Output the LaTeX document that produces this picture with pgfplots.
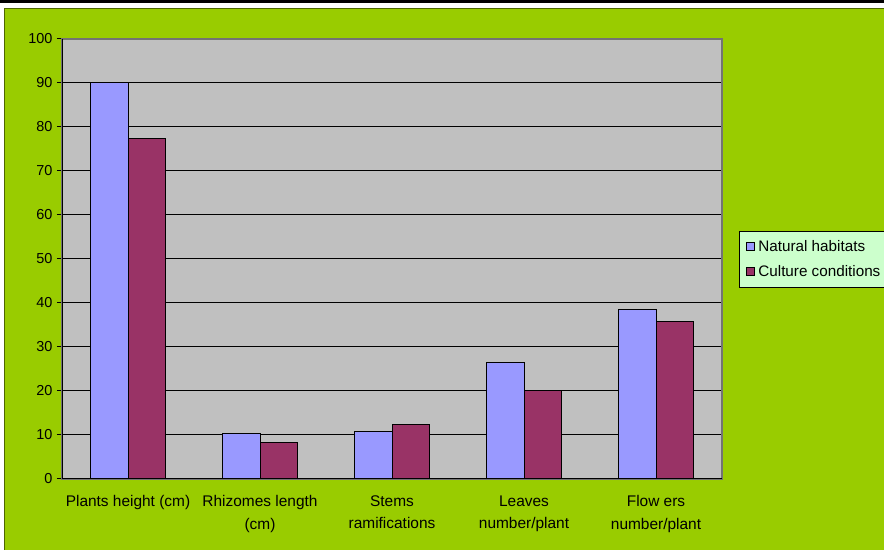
\documentclass[border=0pt]{standalone}
\usepackage{pgfplots}
\pgfplotsset{compat=1.18}
\usepackage{fontspec}
\setmainfont{Liberation Sans}
\definecolor{bgreen}{HTML}{99CC00}
\definecolor{dgreen}{HTML}{4D6600}
\definecolor{plotgrey}{HTML}{C0C0C0}
\definecolor{natblue}{HTML}{9999FF}
\definecolor{culmaroon}{HTML}{993366}
\definecolor{legbg}{HTML}{CCFFCC}
\begin{document}
\begin{tikzpicture}
\useasboundingbox (0bp,0bp) rectangle (884bp,550bp);
\fill[white] (0bp,0bp) rectangle (884bp,550bp);
\fill[black] (0bp,546.5bp) rectangle (884bp,550bp);
\fill[bgreen] (4bp,0bp) rectangle (890bp,542bp);
\draw[dgreen,line width=1bp] (4.5bp,0bp) -- (4.5bp,541.5bp) -- (890bp,541.5bp);
\begin{axis}[
  at={(62bp,71bp)}, anchor=south west,
  width=660bp, height=440bp, scale only axis,
  ybar=0pt, bar width=37.5bp,
  xmin=-0.5, xmax=4.5, ymin=0, ymax=100,
  ytick={0,10,...,100},
  xtick={0,1,2,3,4},
  xticklabels={Plants height (cm),Rhizomes length\\(cm),Stems\\ramifications,Leaves\\number/plant,Flow ers\\number/plant},
  x tick label style={font=\fontsize{15.5}{22.5}\selectfont, align=center, anchor=north, yshift=-8bp},
  y tick label style={font=\fontsize{14.5}{16}\selectfont, xshift=-1bp},
  /pgf/number format/assume math mode=true,
  major x tick style={draw=none},
  extra x ticks={-0.5,0.5,1.5,2.5,3.5,4.5},
  extra x tick labels={},
  extra x tick style={major tick length=5bp, tick style={black, line width=1bp}, grid=none},
  tick align=outside, xtick pos=bottom, ytick pos=left,
  major tick length=5bp,
  y tick style={black, line width=1bp},
  ymajorgrids, grid style={black, line width=1bp},
  axis background/.style={fill=plotgrey},
  axis line style={draw=gray!90!black, line width=1.6bp},
  legend style={at={(1,0.5)}, anchor=west, xshift=17bp, fill=legbg, draw=black, line width=0.8bp,
    font=\fontsize{15.3}{17}\selectfont, row sep=9bp, inner xsep=3bp, inner ysep=7bp},
  legend cell align=left,
  legend image code/.code={\path[draw=none,fill=none] (0bp,0bp) -- (14bp,0bp); \draw[#1, line width=0.8bp] (4bp,-4bp) rectangle (12bp,4bp);},
]
\addplot[fill=natblue, draw=black, line width=1bp] coordinates {(0,90) (1,10.4) (2,10.7) (3,26.4) (4,38.6)};
\addplot[fill=culmaroon, draw=black, line width=1bp] coordinates {(0,77.4) (1,8.4) (2,12.3) (3,20.0) (4,35.7)};
\legend{Natural habitats, Culture conditions}
\draw[black, line width=1.2bp] (rel axis cs:0,1) -- (rel axis cs:0,0) -- (rel axis cs:1,0);
\end{axis}
\end{tikzpicture}
\end{document}
